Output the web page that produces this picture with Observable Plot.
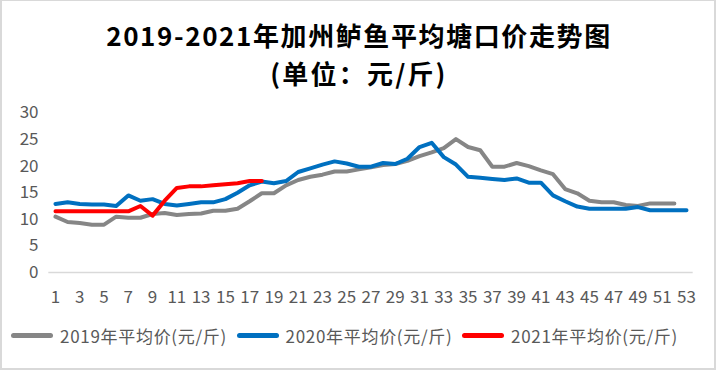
<!DOCTYPE html>
<html><head><meta charset="utf-8">
<script src="https://cdn.jsdelivr.net/npm/d3@7"></script>
<script src="https://cdn.jsdelivr.net/npm/@observablehq/plot@0.6"></script>
<style>
body{margin:0;background:#fff;}
#frame{position:relative;width:718px;height:372px;overflow:hidden;font-family:"Noto Sans CJK SC","Microsoft YaHei",sans-serif;background:#fff;}
#border{position:absolute;left:0;top:0;width:716px;height:370px;box-sizing:border-box;border:2px solid #d9d9d9;border-top-width:1px;}
.tl{position:absolute;left:0;width:718px;text-align:center;font-weight:bold;font-size:26px;line-height:38px;height:38px;color:#000;}
#chart{position:absolute;left:0;top:90px;}
.lg{position:absolute;top:323px;height:24px;display:flex;align-items:center;white-space:nowrap;font-size:17px;letter-spacing:0.7px;color:#595959;}
.sw{width:42px;height:5px;border-radius:3px;margin-right:7px;}
</style></head>
<body>
<div id="frame">
  <div id="border"></div>
  <div class="tl" style="top:16px;letter-spacing:1.6px">2019-2021年加州鲈鱼平均塘口价走势图</div>
  <div class="tl" style="top:54px;letter-spacing:2.2px">(单位：元/斤)</div>
  <div id="chart"></div>
  <div id="legend"></div>
</div>
<script>
const seriesNames = ["2019年平均价(元/斤)", "2020年平均价(元/斤)", "2021年平均价(元/斤)"];
const seriesColors = ["#868686", "#0070C0", "#FF0000"];
const xTicks = [1,3,5,7,9,11,13,15,17,19,21,23,25,27,29,31,33,35,37,39,41,43,45,47,49,51,53];
const yTicks = [0,5,10,15,20,25,30];
const price2019 = [10.5,9.5,9.3,9.0,9.0,10.5,10.3,10.3,11.0,11.2,10.8,11.0,11.1,11.6,11.6,12.0,13.4,14.9,14.9,16.4,17.4,18.0,18.4,19.0,19.0,19.4,19.8,20.2,20.4,21.0,21.9,22.6,23.4,25.1,23.6,23.0,19.9,19.9,20.6,20.0,19.2,18.5,15.7,14.9,13.5,13.2,13.2,12.7,12.5,13.0,13.0,13.0];
const price2020 = [12.9,13.2,12.9,12.8,12.8,12.5,14.5,13.5,13.8,12.9,12.6,12.9,13.2,13.2,13.8,15.0,16.4,17.1,16.8,17.2,18.9,19.6,20.3,20.9,20.5,19.9,19.9,20.6,20.4,21.4,23.6,24.4,21.7,20.3,18.0,17.8,17.6,17.4,17.7,16.9,16.9,14.5,13.4,12.4,12.0,12.0,12.0,12.0,12.3,11.7,11.7,11.7,11.7];
const price2021 = [11.5,11.5,11.5,11.5,11.5,11.5,11.5,12.5,10.7,13.5,15.9,16.2,16.2,16.4,16.6,16.8,17.2,17.2];

const allSeries = [price2019, price2020, price2021];
const rows = allSeries.flatMap((arr, s) => arr.map((v, i) => ({week: i + 1, value: v, series: seriesNames[s]})));

const chart = Plot.plot({
  width: 718,
  height: 222,
  marginTop: 22.5,
  marginBottom: 40,
  marginLeft: 55,
  marginRight: 32,
  style: {fontSize: "17px", color: "#595959", fontFamily: "'Noto Sans CJK SC', sans-serif", background: "transparent", overflow: "visible"},
  x: {domain: [1, 53]},
  y: {domain: [0, 30]},
  color: {domain: seriesNames, range: seriesColors},
  marks: [
    Plot.ruleY([0], {x1: 0.45, x2: 53.55, stroke: "#d9d9d9", strokeWidth: 1.5, clip: false}),
    Plot.axisY({ticks: yTicks, tickSize: 0, tickPadding: 17, label: null}),
    Plot.axisX({ticks: xTicks, tickSize: 0, tickPadding: 18, label: null, tickFormat: d => String(d)}),
    Plot.line(rows, {x: "week", y: "value", z: "series", stroke: "series", strokeWidth: 4, strokeLinejoin: "round", strokeLinecap: "round"})
  ]
});
document.getElementById("chart").appendChild(chart);

const legend = document.getElementById("legend");
seriesNames.forEach((name, i) => {
  const item = document.createElement("div");
  item.className = "lg";
  item.style.left = (11 + i * 225.5) + "px";
  const sw = document.createElement("div");
  sw.className = "sw";
  sw.style.background = seriesColors[i];
  const tx = document.createElement("span");
  tx.textContent = name;
  item.appendChild(sw);
  item.appendChild(tx);
  legend.appendChild(item);
});
</script>
</body></html>
